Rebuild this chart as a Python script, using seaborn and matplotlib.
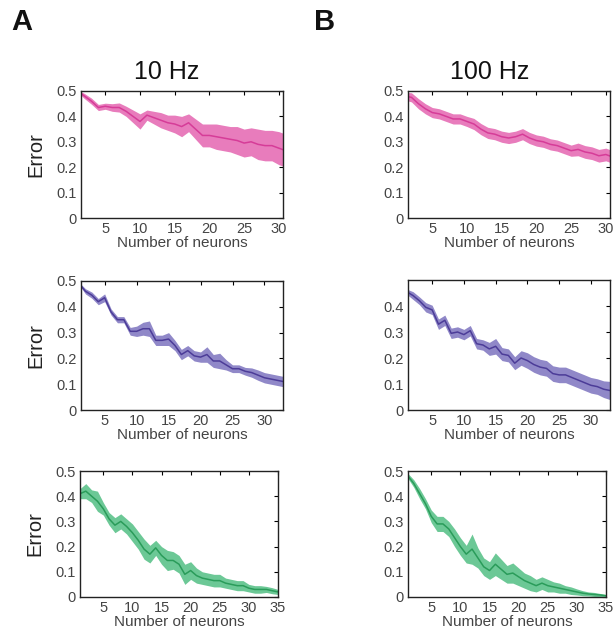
import numpy as np
import pandas as pd
import matplotlib
matplotlib.use("Agg")
import matplotlib.pyplot as plt
import seaborn as sns

# ---------------- data ----------------
# 10 Hz, pink
n_pink = list(range(1, 32))
pink10_mean = [0.50, 0.48, 0.46, 0.435, 0.44, 0.435, 0.435, 0.42, 0.40, 0.38,
               0.405, 0.395, 0.385, 0.375, 0.37, 0.36, 0.375, 0.35, 0.325, 0.325,
               0.32, 0.315, 0.31, 0.305, 0.295, 0.30, 0.29, 0.285, 0.285, 0.275, 0.265]
pink10_err = [0.005, 0.01, 0.012, 0.012, 0.012, 0.015, 0.018, 0.02, 0.025, 0.03,
              0.02, 0.025, 0.03, 0.03, 0.035, 0.04, 0.035, 0.04, 0.045, 0.045,
              0.05, 0.05, 0.05, 0.055, 0.055, 0.055, 0.06, 0.06, 0.06, 0.065, 0.065]
# 100 Hz, pink
n_pink100 = list(range(1, 33))
pink100_mean = [0.48, 0.475, 0.45, 0.43, 0.415, 0.41, 0.40, 0.39, 0.39, 0.38,
                0.37, 0.35, 0.335, 0.33, 0.32, 0.315, 0.32, 0.33, 0.315, 0.305,
                0.30, 0.29, 0.285, 0.275, 0.265, 0.27, 0.26, 0.255, 0.245, 0.25,
                0.24, 0.23]
pink100_err = [0.015, 0.018, 0.02, 0.02, 0.02, 0.02, 0.02, 0.02, 0.02, 0.02,
               0.022, 0.022, 0.022, 0.022, 0.022, 0.022, 0.022, 0.022, 0.022, 0.022,
               0.022, 0.022, 0.022, 0.022, 0.022, 0.025, 0.025, 0.025, 0.025, 0.025,
               0.025, 0.025]
# 10 Hz, purple
n_purple = list(range(1, 34))
purple10_mean = [0.49, 0.46, 0.445, 0.42, 0.435, 0.38, 0.35, 0.35, 0.305, 0.305,
                 0.315, 0.315, 0.27, 0.27, 0.275, 0.25, 0.215, 0.23, 0.21, 0.205,
                 0.215, 0.19, 0.19, 0.175, 0.16, 0.16, 0.15, 0.145, 0.135, 0.125,
                 0.12, 0.115, 0.11]
purple10_err = [0.005, 0.01, 0.012, 0.012, 0.015, 0.012, 0.012, 0.012, 0.015, 0.02,
                0.025, 0.03, 0.02, 0.02, 0.025, 0.02, 0.02, 0.02, 0.02, 0.02,
                0.03, 0.025, 0.03, 0.02, 0.015, 0.015, 0.015, 0.018, 0.02, 0.02,
                0.02, 0.02, 0.02]
# 100 Hz, purple
n_purple100 = list(range(1, 34))
purple100_mean = [0.455, 0.44, 0.42, 0.395, 0.385, 0.33, 0.345, 0.295, 0.30, 0.29,
                  0.305, 0.255, 0.25, 0.235, 0.245, 0.215, 0.21, 0.18, 0.20, 0.19,
                  0.175, 0.165, 0.16, 0.14, 0.135, 0.135, 0.125, 0.115, 0.105, 0.095,
                  0.09, 0.08, 0.075]
purple100_err = [0.01, 0.015, 0.015, 0.018, 0.018, 0.02, 0.02, 0.02, 0.02, 0.02,
                 0.02, 0.02, 0.02, 0.025, 0.03, 0.025, 0.025, 0.025, 0.028, 0.03,
                 0.03, 0.03, 0.03, 0.03, 0.03, 0.03, 0.03, 0.03, 0.03, 0.03,
                 0.03, 0.032, 0.035]
# 10 Hz, green
n_green = list(range(1, 36))
green10_mean = [0.41, 0.42, 0.40, 0.38, 0.35, 0.31, 0.285, 0.30, 0.28, 0.255,
                0.225, 0.19, 0.17, 0.195, 0.165, 0.145, 0.145, 0.13, 0.09, 0.105,
                0.085, 0.075, 0.07, 0.065, 0.065, 0.055, 0.05, 0.045, 0.045, 0.035,
                0.03, 0.03, 0.03, 0.025, 0.02]
green10_err = [0.02, 0.03, 0.025, 0.04, 0.025, 0.025, 0.03, 0.03, 0.03, 0.035,
               0.035, 0.04, 0.035, 0.03, 0.035, 0.04, 0.035, 0.035, 0.04, 0.035,
               0.03, 0.025, 0.025, 0.025, 0.025, 0.02, 0.02, 0.02, 0.02, 0.015,
               0.015, 0.015, 0.012, 0.012, 0.01]
# 100 Hz, green
n_green100 = list(range(1, 36))
green100_mean = [0.48, 0.45, 0.41, 0.37, 0.32, 0.29, 0.29, 0.27, 0.235, 0.20,
                 0.17, 0.19, 0.155, 0.12, 0.105, 0.13, 0.11, 0.09, 0.095, 0.08,
                 0.065, 0.055, 0.045, 0.055, 0.045, 0.04, 0.035, 0.03, 0.025, 0.02,
                 0.015, 0.012, 0.01, 0.008, 0.005]
green100_err = [0.01, 0.015, 0.02, 0.02, 0.025, 0.03, 0.03, 0.03, 0.035, 0.035,
                0.035, 0.06, 0.04, 0.035, 0.035, 0.045, 0.04, 0.035, 0.04, 0.035,
                0.03, 0.03, 0.025, 0.025, 0.025, 0.02, 0.02, 0.015, 0.015, 0.012,
                0.01, 0.008, 0.008, 0.006, 0.005]

titles = ["10 Hz", "100 Hz"]
panel_letters = ["A", "B"]

# ---------------- style ----------------
sns.set_theme(style="white")
plt.rcParams["font.family"] = ["Liberation Sans", "DejaVu Sans"]

PINK_LINE, PINK_FILL = "#d63c98", "#e87cbc"
PURP_LINE, PURP_FILL = "#4c3c98", "#9088c8"
GREEN_LINE, GREEN_FILL = "#2a9c5a", "#6cc896"
TICK_COL = "#444444"

fig = plt.figure(figsize=(6.16, 6.37), dpi=100)
W, H = 616, 637

def rect(l, r, t, b):
    return [l / W, 1 - b / H, (r - l) / W, (b - t) / H]

panels = [
    (rect(81, 283, 91, 218), n_pink, pink10_mean, pink10_err, PINK_LINE, PINK_FILL, (1.5, 30.6), [5, 10, 15, 20, 25, 30], (0, 0.5), [0, .1, .2, .3, .4, .5], True),
    (rect(408, 610, 91, 218), n_pink100, pink100_mean, pink100_err, PINK_LINE, PINK_FILL, (1.5, 30.6), [5, 10, 15, 20, 25, 30], (0, 0.5), [0, .1, .2, .3, .4, .5], False),
    (rect(81, 283, 281, 410), n_purple, purple10_mean, purple10_err, PURP_LINE, PURP_FILL, (1.3, 32.9), [5, 10, 15, 20, 25, 30], (0, 0.5), [0, .1, .2, .3, .4, .5], True),
    (rect(408, 610, 280, 410), n_purple100, purple100_mean, purple100_err, PURP_LINE, PURP_FILL, (1.2, 33), [5, 10, 15, 20, 25, 30], (0, 0.5), [0, .1, .2, .3, .4], False),
    (rect(80, 278, 471, 597), n_green, green10_mean, green10_err, GREEN_LINE, GREEN_FILL, (1, 35), [5, 10, 15, 20, 25, 30, 35], (0, 0.5), [0, .1, .2, .3, .4, .5], True),
    (rect(408, 606, 471, 597), n_green100, green100_mean, green100_err, GREEN_LINE, GREEN_FILL, (1, 35), [5, 10, 15, 20, 25, 30, 35], (0, 0.5), [0, .1, .2, .3, .4, .5], False),
]

axes = []
for (pos, xs, m, e, lc, fc, xl, xt, yl, yt, show_err) in panels:
    ax = fig.add_axes(pos)
    df = pd.DataFrame({"n": xs, "err": m})
    lo = np.array(m) - np.array(e)
    hi = np.array(m) + np.array(e)
    ax.fill_between(xs, lo, hi, color=fc, alpha=1.0, linewidth=0)
    sns.lineplot(data=df, x="n", y="err", ax=ax, color=lc, linewidth=1.1)
    ax.set_xlim(*xl)
    ax.set_ylim(*yl)
    ax.set_xticks(xt)
    ax.set_yticks(yt)
    ax.set_yticklabels(["0" if v == 0 else f"{v:.1f}" for v in yt])
    ax.tick_params(direction="in", length=3, width=0.8, top=True, right=True,
                   labelsize=10.5, colors="black", labelcolor=TICK_COL, pad=3)
    for s in ax.spines.values():
        s.set_visible(True)
        s.set_color("#222222")
        s.set_linewidth(1.0)
    ax.set_xlabel("Number of neurons", fontsize=11, color=TICK_COL, labelpad=0)
    if show_err:
        ax.set_ylabel("Error", fontsize=14.5, color="#222222", labelpad=8)
    else:
        ax.set_ylabel("")
    axes.append(ax)

fig.text(167 / W, 1 - 72 / H, titles[0], ha="center", va="center", fontsize=18, color="#111111")
fig.text(490 / W, 1 - 72 / H, titles[1], ha="center", va="center", fontsize=18, color="#111111")
fig.text(22 / W, 1 - 22 / H, panel_letters[0], ha="center", va="center", fontsize=21, fontweight="bold", color="#111111")
fig.text(325 / W, 1 - 22 / H, panel_letters[1], ha="center", va="center", fontsize=21, fontweight="bold", color="#111111")

fig.savefig("out.png", dpi=100, facecolor="white")
